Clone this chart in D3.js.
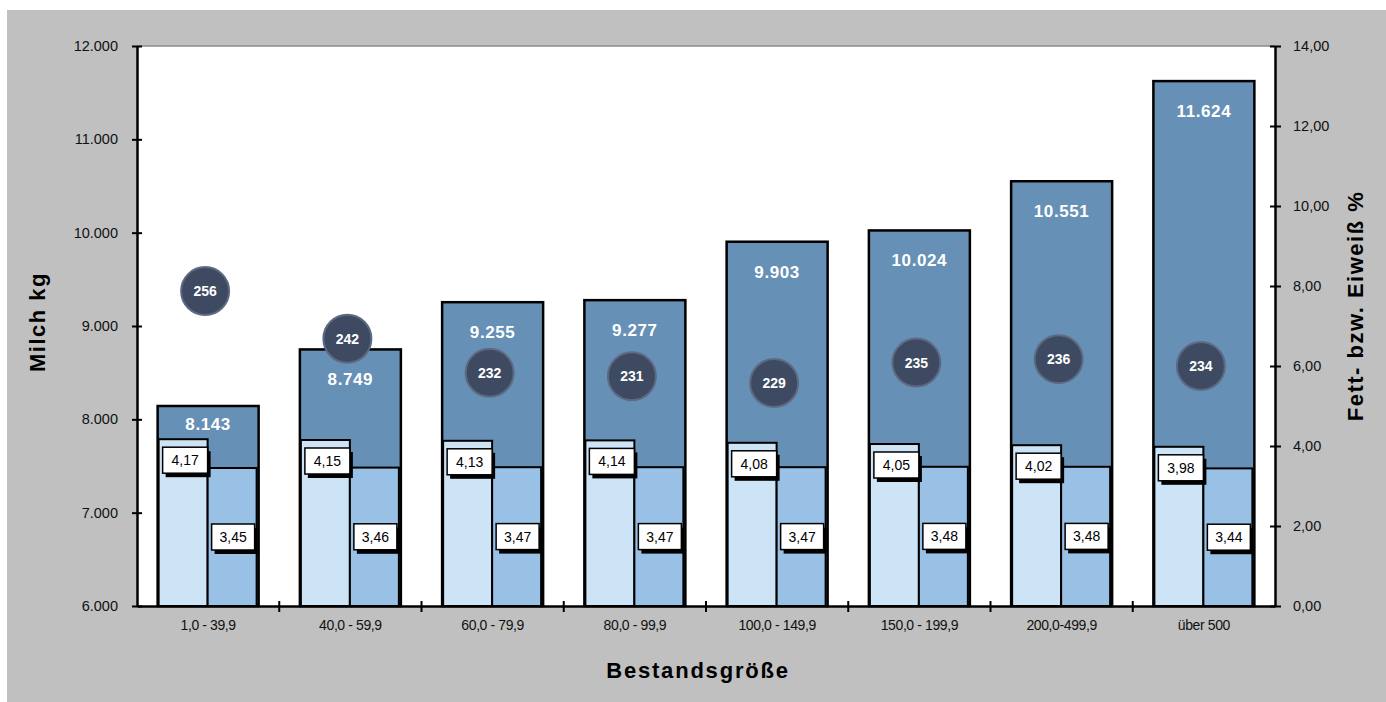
<!DOCTYPE html>
<html>
<head>
<meta charset="utf-8">
<script src="https://cdn.jsdelivr.net/npm/d3@7"></script>
<style>
  body { margin: 0; background: #fff; }
  svg { display: block; font-family: "Liberation Sans", Arial, sans-serif; }
</style>
</head>
<body>
<svg id="chart" width="1386" height="702"></svg>
<script>
// Daten
const categories = ["1,0 -  39,9", "40,0 - 59,9", "60,0 - 79,9", "80,0 - 99,9",
                    "100,0 - 149,9", "150,0 - 199,9", "200,0-499,9", "über 500"];
const milchKg = [8143, 8749, 9255, 9277, 9903, 10024, 10551, 11624];
const fettProzent = [4.17, 4.15, 4.13, 4.14, 4.08, 4.05, 4.02, 3.98];
const eiweissProzent = [3.45, 3.46, 3.47, 3.47, 3.47, 3.48, 3.48, 3.44];
const kuhWerte = [256, 242, 232, 231, 229, 235, 236, 234];
const milchTicks = [6000, 7000, 8000, 9000, 10000, 11000, 12000];
const prozentTicks = [0, 2, 4, 6, 8, 10, 12, 14];

const de = d3.formatLocale({ decimal: ",", thousands: ".", grouping: [3], currency: ["", " €"] });
const fmtKg = de.format(",.0f");
const fmtPct = de.format(".2f");

const svg = d3.select("#chart");
const pLeft = 137, pRight = 1275, pTop = 46, pBottom = 606;
const font = "Liberation Sans, Arial, sans-serif";

// Hintergrund
svg.append("rect").attr("x", 7).attr("y", 10).attr("width", 1379).attr("height", 692).attr("fill", "#c0c0c0");
svg.append("rect").attr("x", pLeft).attr("y", pTop).attr("width", pRight - pLeft).attr("height", pBottom - pTop).attr("fill", "#fff");
svg.append("line").attr("x1", pLeft).attr("x2", pRight).attr("y1", pTop).attr("y2", pTop).attr("stroke", "#8a8a8a").attr("stroke-width", 1.5);

// Skalen
const x = d3.scaleBand().domain(categories).range([pLeft, pRight]).paddingInner(0.29).paddingOuter(0.145);
const sub = d3.scaleBand().domain(["fett", "eiweiss"]).range([1, x.bandwidth() - 2]);
const yMilch = d3.scaleLinear().domain([6000, 12000]).range([pBottom, pTop]);
const yPct = d3.scaleLinear().domain([0, 14]).range([pBottom, pTop]);
const yKuh = d3.scaleLinear().domain([163.5, 328]).range([pBottom, pTop]);

const rows = categories.map(function(c, i) {
    return { cat: c, milch: milchKg[i], fett: fettProzent[i], eiweiss: eiweissProzent[i], kuh: kuhWerte[i] };
});

// Milch-Balken
svg.append("g").selectAll("rect").data(rows).enter().append("rect")
    .attr("x", d => x(d.cat))
    .attr("y", d => yMilch(d.milch))
    .attr("width", x.bandwidth())
    .attr("height", d => pBottom - yMilch(d.milch))
    .attr("fill", "#6690b5")
    .attr("stroke", "#000").attr("stroke-width", 2.5);

// Fett- und Eiweiß-Balken
svg.append("g").selectAll("rect").data(rows).enter().append("rect")
    .attr("x", d => x(d.cat) + sub("fett"))
    .attr("y", d => yPct(d.fett))
    .attr("width", sub.bandwidth())
    .attr("height", d => pBottom - yPct(d.fett))
    .attr("fill", "#cde3f6")
    .attr("stroke", "#000").attr("stroke-width", 2);

svg.append("g").selectAll("rect").data(rows).enter().append("rect")
    .attr("x", d => x(d.cat) + sub("eiweiss"))
    .attr("y", d => yPct(d.eiweiss))
    .attr("width", sub.bandwidth())
    .attr("height", d => pBottom - yPct(d.eiweiss))
    .attr("fill", "#99c1e6")
    .attr("stroke", "#000").attr("stroke-width", 2);

// Milch-Beschriftung
svg.append("g").selectAll("text").data(rows).enter().append("text")
    .attr("x", d => x(d.cat) + x.bandwidth() / 2)
    .attr("y", d => Math.min(yMilch(d.milch) + 30, yPct(d.fett) - 15))
    .attr("dy", "0.35em")
    .attr("text-anchor", "middle")
    .attr("fill", "#fff").attr("font-weight", "bold").attr("font-size", 17)
    .attr("letter-spacing", 0.6)
    .text(d => fmtKg(d.milch));

// Kreise
const kreis = svg.append("g").selectAll("g").data(rows).enter().append("g")
    .attr("transform", d => "translate(" + (x(d.cat) + x.bandwidth() / 2 - 3) + "," + yKuh(d.kuh) + ")");
kreis.append("circle").attr("r", 24).attr("fill", "#3e4a62").attr("stroke", "#5d6a82").attr("stroke-width", 2);
kreis.append("text").attr("dy", "0.36em").attr("text-anchor", "middle")
    .attr("fill", "#fff").attr("font-weight", "bold").attr("font-size", 14)
    .text(d => d.kuh);

// Wertekästchen
function labelBox(g, cx, cy, w, txt) {
    const h = 26;
    g.append("rect").attr("x", cx - w / 2 + 3).attr("y", cy - h / 2 + 4).attr("width", w).attr("height", h).attr("fill", "#000");
    g.append("rect").attr("x", cx - w / 2).attr("y", cy - h / 2).attr("width", w).attr("height", h)
        .attr("fill", "#fff").attr("stroke", "#000").attr("stroke-width", 1.5);
    g.append("text").attr("x", cx).attr("y", cy).attr("dy", "0.36em").attr("text-anchor", "middle")
        .attr("font-size", 14).attr("fill", "#000").text(txt);
}
const boxes = svg.append("g");
rows.forEach(function(d) {
    labelBox(boxes, x(d.cat) + sub("fett") + sub.bandwidth() / 2 + 2, yPct(d.fett) + 21, 45, fmtPct(d.fett));
    labelBox(boxes, x(d.cat) + sub("eiweiss") + sub.bandwidth() / 2 + 1, (yPct(d.eiweiss) + pBottom) / 2, 43, fmtPct(d.eiweiss));
});

// Achsen
function styleAxis(g, inner, outer) {
    g.select(".domain").attr("stroke", "#000").attr("stroke-width", 2.5);
    g.selectAll(".tick line").attr("stroke", "#000").attr("stroke-width", 2).attr("x1", inner).attr("x2", outer);
    g.selectAll(".tick text").attr("font-size", 14.5).attr("fill", "#111").attr("font-family", font);
}
const axL = svg.append("g").attr("transform", "translate(" + pLeft + ",0)")
    .call(d3.axisLeft(yMilch).tickValues(milchTicks).tickFormat(fmtKg).tickSizeOuter(0).tickPadding(13));
styleAxis(axL, -5, 5);

const axR = svg.append("g").attr("transform", "translate(" + pRight + ",0)")
    .call(d3.axisRight(yPct).tickValues(prozentTicks).tickFormat(fmtPct).tickSizeOuter(0).tickPadding(12));
styleAxis(axR, -5, 6);

const axB = svg.append("g").attr("transform", "translate(0," + pBottom + ")")
    .call(d3.axisBottom(x).tickSize(0).tickSizeOuter(0).tickPadding(14));
axB.select(".domain").attr("stroke", "#000").attr("stroke-width", 2.5);
axB.selectAll(".tick text").attr("font-size", 14).attr("letter-spacing", -0.4).attr("fill", "#111").attr("font-family", font);

// Trennstriche zwischen Kategorien
svg.append("g").selectAll("line").data(categories.slice(1)).enter().append("line")
    .attr("x1", d => x(d) - x.step() * x.paddingInner() / 2)
    .attr("x2", d => x(d) - x.step() * x.paddingInner() / 2)
    .attr("y1", pBottom - 5).attr("y2", pBottom + 6)
    .attr("stroke", "#000").attr("stroke-width", 2);

// Achsentitel
svg.append("text").attr("transform", "translate(45,322) rotate(-90)")
    .attr("text-anchor", "middle").attr("font-weight", "bold").attr("font-size", 22)
    .attr("letter-spacing", 1.5).text("Milch kg");
svg.append("text").attr("transform", "translate(1363,306) rotate(-90)")
    .attr("text-anchor", "middle").attr("font-weight", "bold").attr("font-size", 22)
    .attr("letter-spacing", 1.5).text("Fett- bzw. Eiweiß %");
svg.append("text").attr("x", 698).attr("y", 678)
    .attr("text-anchor", "middle").attr("font-weight", "bold").attr("font-size", 22)
    .attr("letter-spacing", 1.8).text("Bestandsgröße");
</script>
</body>
</html>
